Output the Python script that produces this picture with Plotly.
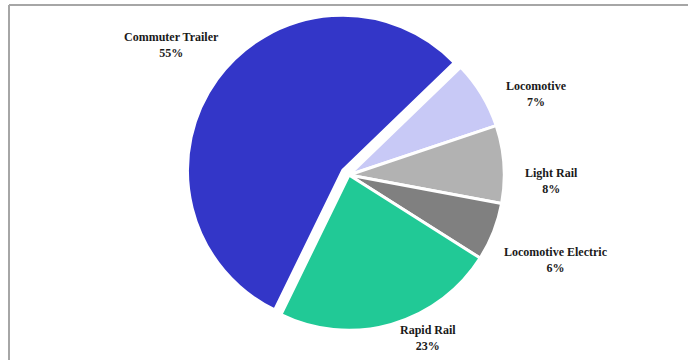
import plotly.graph_objects as go

# Data
labels = ["Locomotive", "Light Rail", "Locomotive Electric", "Rapid Rail", "Commuter Trailer"]
values = [7, 8, 6, 23, 55]  # percent
colors = ["#C8C9F6", "#B2B2B2", "#808080", "#21C996", "#3336C8"]
pulls = [0, 0, 0, 0, 0.05]

# label anchor positions in pixels (x from left, y from top)
label_pos = [(536, 94), (551, 181), (556, 260), (428, 338), (171, 45)]

W, H = 688, 360
cx, cy, half = 349, 175, 163

fig = go.Figure()
fig.add_trace(go.Pie(
    labels=labels,
    values=values,
    sort=False,
    direction="clockwise",
    rotation=46,
    pull=pulls,
    marker=dict(colors=colors, line=dict(color="white", width=3)),
    textinfo="none",
    hoverinfo="label+value",
    showlegend=False,
    domain=dict(x=[(cx - half) / W, (cx + half) / W],
                y=[(H - cy - half) / H, (H - cy + half) / H]),
))

for lab, val, (px, py) in zip(labels, values, label_pos):
    fig.add_annotation(
        x=px / W, y=1 - py / H, xref="paper", yref="paper",
        text=f"<b>{lab}</b><br><b>{val}%</b>",
        showarrow=False, xanchor="center", yanchor="middle",
        font=dict(family="Liberation Serif", size=12, color="#1a1a1a"),
        align="center",
    )

# chart frame lines (top and left)
fig.add_shape(type="line", xref="paper", yref="paper",
              x0=9 / W, y0=1 - 5 / H, x1=1, y1=1 - 5 / H,
              line=dict(color="#a6a6a6", width=2))
fig.add_shape(type="line", xref="paper", yref="paper",
              x0=9 / W, y0=1 - 5 / H, x1=9 / W, y1=0,
              line=dict(color="#a6a6a6", width=2))

fig.update_layout(
    width=W, height=H,
    margin=dict(l=0, r=0, t=0, b=0),
    paper_bgcolor="white",
    plot_bgcolor="white",
)

fig.write_html("out.html")
